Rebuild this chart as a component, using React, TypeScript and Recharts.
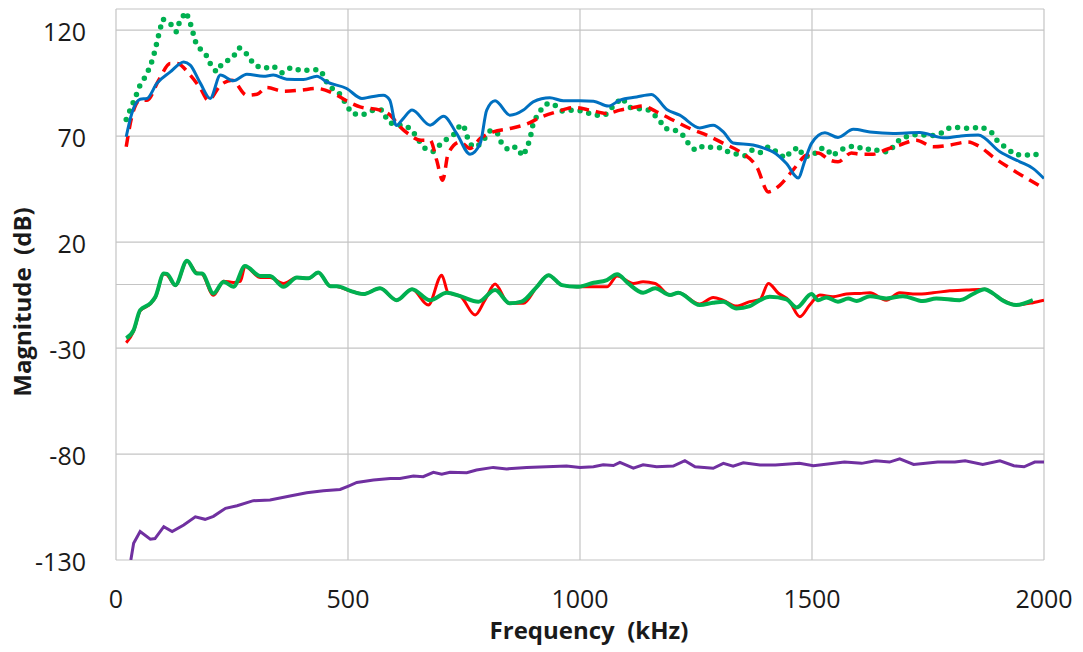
import React from 'react';
import { LineChart, Line, XAxis, YAxis, CartesianGrid, ReferenceLine } from 'recharts';

const xTicks = [0, 500, 1000, 1500, 2000];
const yTicks = [-130, -80, -30, 20, 70, 120];

// Top group – blue solid
const blueFreq = [22, 34, 52, 67, 88, 117, 146, 160, 182, 203, 225, 253, 282, 318, 339, 368, 404, 433, 454, 497, 530, 548, 576, 590, 604, 619, 638, 677, 706, 734, 763, 785, 799, 817, 849, 878, 899, 935, 964, 1000, 1029, 1061, 1086, 1122, 1154, 1187, 1215, 1258, 1287, 1309, 1330, 1373, 1402, 1416, 1445, 1470, 1485, 1499, 1528, 1556, 1589, 1625, 1675, 1732, 1783, 1818, 1858, 1905, 1948, 1976, 2000];
const blueDb = [69.7, 80.7, 87.4, 87.8, 94.9, 100.3, 105, 103.5, 94.9, 87.8, 98.8, 96.1, 99.2, 98.3, 98.8, 96.9, 96.7, 98.3, 95.6, 92.5, 87.8, 88.5, 89.3, 87, 75, 78.3, 82.3, 75.2, 79.4, 71.3, 61.5, 66.6, 82.3, 86.7, 79.9, 82.3, 86.2, 88.1, 86.7, 86.7, 86.5, 84.2, 87, 88.5, 89.7, 82.6, 79.9, 73.9, 75.2, 72, 66.8, 65.8, 63.9, 62.6, 57.1, 50.3, 58.7, 66.6, 71.6, 69.4, 73.2, 72, 71.3, 71.7, 69.2, 70, 70.5, 62.6, 57.9, 54.8, 50];

// Top group – red dashed
const redDashFreq = [22, 34, 52, 67, 92, 117, 131, 160, 182, 199, 225, 250, 282, 304, 325, 361, 397, 433, 469, 497, 526, 569, 591, 612, 634, 655, 677, 691, 704, 716, 742, 763, 785, 813, 849, 885, 914, 950, 986, 1022, 1058, 1086, 1115, 1136, 1165, 1201, 1237, 1273, 1309, 1345, 1381, 1406, 1431, 1459, 1488, 1513, 1538, 1556, 1585, 1603, 1632, 1660, 1689, 1725, 1761, 1797, 1836, 1862, 1890, 1933, 1969, 2000];
const redDashDb = [65, 79.1, 86.9, 86.9, 96.4, 104.3, 104.3, 98.8, 92.5, 86.9, 94, 96.4, 89.3, 89.8, 93, 91.2, 91.7, 92.5, 90.1, 86.7, 83.8, 82.3, 79.9, 74.4, 70.5, 68.1, 68.1, 58.7, 49.2, 61.8, 67.3, 64.2, 68.9, 72, 73.6, 75.7, 78.8, 81.5, 83.5, 82.3, 80.7, 82.3, 83.5, 84.2, 81.5, 77.5, 73.6, 70.5, 66.6, 62.6, 55.5, 43.7, 46.9, 54, 61, 62.1, 58.7, 57.9, 62.1, 61.5, 61.5, 63.7, 65.8, 68.1, 65, 65.8, 67.3, 65, 60.2, 54, 49.3, 45.3];

// Top group – green dotted
const greenDotFreq = [22, 32, 42, 51, 63, 74, 82, 88, 94, 101, 117, 130, 138, 151, 160, 167, 174, 192, 203, 216, 230, 250, 266, 283, 298, 318, 338, 358, 377, 401, 422, 442, 451, 469, 483, 508, 530, 555, 575, 585, 601, 623, 638, 652, 666, 683, 695, 709, 727, 742, 749, 757, 767, 778, 792, 806, 821, 831, 846, 862, 877, 887, 894, 899, 910, 925, 942, 961, 986, 1007, 1029, 1054, 1072, 1090, 1108, 1126, 1147, 1169, 1183, 1201, 1219, 1231, 1248, 1266, 1287, 1303, 1319, 1337, 1355, 1370, 1388, 1406, 1424, 1442, 1457, 1472, 1481, 1503, 1515, 1531, 1544, 1560, 1578, 1596, 1614, 1630, 1648, 1666, 1675, 1689, 1711, 1732, 1753, 1775, 1797, 1818, 1841, 1865, 1887, 1901, 1920, 1939, 1957, 1975, 1994];
const greenDotDb = [77.9, 83.1, 88.5, 93.6, 98, 103, 108.7, 114, 119.7, 125.2, 123.2, 119.2, 124.7, 128.6, 123.4, 118, 112.5, 109.3, 104.3, 100.3, 104.6, 106.6, 111.7, 108.5, 103.5, 101.9, 103.2, 99.9, 102.4, 100.7, 101.5, 101.1, 96.4, 91.7, 89.8, 80.7, 79.9, 82.3, 82.3, 77.2, 75.2, 75.2, 72.8, 68.1, 64.2, 62.6, 65.3, 68.1, 70.5, 75.2, 75.2, 69.7, 65.3, 65, 68.1, 72.5, 72, 66.6, 63.4, 65, 60.6, 65, 70.5, 76, 80.7, 85.1, 85.4, 81.8, 82.3, 81.8, 79.9, 79.9, 84.2, 88.1, 83.5, 83, 82.3, 78.3, 73.6, 73.2, 71.3, 67.3, 63.4, 65.4, 64.5, 64.5, 62.6, 61.5, 60.7, 63.4, 62.1, 65, 62.6, 59.5, 63.4, 64.7, 60.2, 61, 64.2, 64.2, 60.6, 63.4, 65, 65.3, 63.4, 64.2, 62.6, 62.6, 65, 68.4, 70.5, 70.9, 70, 70.9, 74.1, 74.1, 73.6, 74.4, 71.7, 67.3, 64.2, 61, 61.5, 60.6, 62.3];

// Middle group – red solid
const redMidFreq = [22, 38, 52, 74, 85, 103, 110, 128, 153, 174, 185, 210, 232, 253, 268, 278, 311, 332, 361, 390, 415, 436, 462, 476, 505, 533, 569, 605, 638, 673, 702, 716, 742, 774, 795, 817, 846, 878, 907, 932, 961, 993, 1029, 1058, 1080, 1115, 1136, 1162, 1194, 1212, 1258, 1287, 1309, 1337, 1366, 1388, 1406, 1427, 1450, 1474, 1495, 1517, 1545, 1574, 1603, 1625, 1660, 1689, 1725, 1761, 1797, 1833, 1872, 1905, 1940, 1976, 2000];
const redMidDb = [-27.5, -22, -12.5, -9.2, -6, 5, 4.5, -0.5, 11, 5.5, 5, -5.1, 1.5, 1, 1.5, 8.5, 3.3, 3.3, 0.5, 3.3, 2.9, 5.7, -0.8, -1, -3, -4.5, -1.8, -7.4, -2.2, -9.7, 4.4, -3.9, -5.5, -14.4, -7.4, 0.2, -8.9, -8.9, -1.1, 4.4, -0.3, -1.1, -1.1, -1.1, 4, 0.5, 1.3, 0.5, -5, -3.9, -9.2, -6.1, -7.5, -10.2, -8.1, -7, 0.5, -4, -7.4, -15.2, -9.7, -5, -5.8, -4.5, -4.2, -3.9, -7.4, -3.9, -4.5, -3.9, -3, -2.6, -2.2, -6.6, -9.7, -8.6, -7.4];

// Middle group – green solid
const greenMidFreq = [22, 38, 52, 74, 85, 103, 110, 128, 153, 174, 185, 210, 232, 253, 278, 311, 332, 361, 390, 415, 436, 462, 476, 505, 533, 569, 605, 638, 677, 713, 742, 781, 817, 849, 874, 907, 932, 961, 993, 1029, 1058, 1080, 1104, 1136, 1162, 1194, 1212, 1258, 1287, 1309, 1337, 1366, 1388, 1409, 1445, 1467, 1499, 1513, 1531, 1556, 1578, 1596, 1625, 1660, 1696, 1739, 1768, 1818, 1847, 1872, 1890, 1912, 1940, 1976];
const greenMidDb = [-25.4, -21.5, -12.1, -8.9, -5.8, 5.2, 5, -0.3, 11.2, 5.2, 5.2, -4.2, 1.3, -1.1, 8.7, 4, 4, -1.1, 3.3, 2.9, 5.7, -0.8, -0.8, -3, -4.5, -1.8, -7.4, -2.2, -7.4, -3.9, -5.5, -8.1, -2.6, -8.9, -8.1, -1.1, 4.4, -0.3, -1.1, 0.8, 2.1, 4.8, 0.5, -3.9, -1.8, -5, -3.9, -9.7, -8.6, -8.1, -11.3, -10.2, -7.4, -5.8, -7, -10.8, -4.5, -7.4, -6.1, -8.1, -6.6, -7.8, -5.5, -6.6, -5.5, -7.8, -6.6, -7.4, -4.5, -2.2, -4.2, -7.7, -9.7, -7.4];

// Bottom group – purple solid
const purpleFreq = [32, 38, 52, 74, 84, 103, 121, 146, 171, 192, 210, 236, 261, 296, 332, 375, 411, 447, 483, 501, 519, 555, 591, 612, 641, 662, 684, 702, 720, 756, 777, 813, 842, 885, 928, 971, 1000, 1029, 1050, 1072, 1086, 1115, 1136, 1165, 1201, 1226, 1248, 1287, 1309, 1330, 1352, 1388, 1421, 1473, 1503, 1570, 1607, 1637, 1667, 1689, 1719, 1771, 1808, 1830, 1868, 1905, 1935, 1957, 1980, 2000];
const purpleDb = [-130, -122.1, -116.6, -120.2, -119.9, -114.3, -116.6, -113.5, -109.6, -110.8, -109.4, -105.6, -104.4, -102, -101.7, -99.8, -98.3, -97.3, -96.7, -95.1, -93.4, -92.3, -91.5, -91.5, -90.4, -90.7, -88.6, -89.5, -88.6, -88.8, -87.5, -86.3, -87, -86.3, -86, -85.7, -86.3, -86, -85.1, -85.4, -83.9, -86.7, -85.1, -86, -85.7, -83.1, -86, -86.7, -84.4, -85.7, -84.1, -85.2, -85.2, -84.4, -85.5, -83.8, -84.4, -83.2, -83.8, -82.3, -84.9, -83.8, -83.8, -83.2, -84.9, -83.2, -85.5, -86, -83.8, -83.8];

const toData = (f: number[], v: number[]) => f.map((x, i) => ({ f: x, v: v[i] }));

const blue = toData(blueFreq, blueDb);
const redDash = toData(redDashFreq, redDashDb);
const greenDot = toData(greenDotFreq, greenDotDb);
const redMid = toData(redMidFreq, redMidDb);
const greenMid = toData(greenMidFreq, greenMidDb);
const purple = toData(purpleFreq, purpleDb);

const FONT = '"Open Sans", "DejaVu Sans", sans-serif';

const YTick = (props: any) => {
  const { x, y, payload } = props;
  return (
    <text x={x - 30} y={y + 10.5} textAnchor="end" fontFamily={FONT} fontSize={25} fill="#1a1a1a">
      {payload.value}
    </text>
  );
};

const XTick = (props: any) => {
  const { x, y, payload } = props;
  return (
    <text x={x} y={y + 48} textAnchor="middle" fontFamily={FONT} fontSize={25} fill="#1a1a1a">
      {payload.value}
    </text>
  );
};

export default function App() {
  return (
    <div style={{ position: 'absolute', left: 0, top: 0, width: 1083, height: 652, background: '#fff' }}>
      <LineChart width={1083} height={652} margin={{ top: 9, right: 39, bottom: 0, left: 0 }}>
        <CartesianGrid stroke="#c4c4c4" strokeWidth={1.2} />
        <XAxis
          type="number"
          dataKey="f"
          domain={[0, 2000]}
          ticks={xTicks}
          interval={0}
          axisLine={false}
          tickLine={false}
          tickSize={0}
          tickMargin={0}
          height={92}
          tick={<XTick />}
          allowDataOverflow
        />
        <YAxis
          type="number"
          domain={[-130, 130]}
          ticks={yTicks}
          interval={0}
          axisLine={false}
          tickLine={false}
          tickSize={0}
          tickMargin={0}
          width={116}
          tick={<YTick />}
          allowDataOverflow
        />
        <ReferenceLine y={0} stroke="#c4c4c4" strokeWidth={1.2} />
        <Line data={purple} dataKey="v" type="linear" stroke="#7030A0" strokeWidth={3} dot={false} isAnimationActive={false} />
        <Line data={redMid} dataKey="v" type="monotone" stroke="#FF0000" strokeWidth={3} dot={false} isAnimationActive={false} />
        <Line data={greenMid} dataKey="v" type="monotone" stroke="#00B050" strokeWidth={4} dot={false} isAnimationActive={false} />
        <Line data={greenDot} dataKey="v" type="linear" stroke="#00B050" strokeWidth={5.5} strokeDasharray="0 9" strokeLinecap="round" dot={false} isAnimationActive={false} />
        <Line data={redDash} dataKey="v" type="monotone" stroke="#FF0000" strokeWidth={3.5} strokeDasharray="11 7" dot={false} isAnimationActive={false} />
        <Line data={blue} dataKey="v" type="monotone" stroke="#0070C0" strokeWidth={3} dot={false} isAnimationActive={false} />
        <text x={589} y={639} textAnchor="middle" fontFamily={FONT} fontSize={24} fontWeight="bold" fill="#1a1a1a" style={{ whiteSpace: 'pre' }}>
          {'Frequency  (kHz)'}
        </text>
        <text x={0} y={0} transform="translate(31, 302) rotate(-90)" textAnchor="middle" fontFamily={FONT} fontSize={24} fontWeight="bold" fill="#1a1a1a" style={{ whiteSpace: 'pre' }}>
          {'Magnitude  (dB)'}
        </text>
      </LineChart>
    </div>
  );
}
